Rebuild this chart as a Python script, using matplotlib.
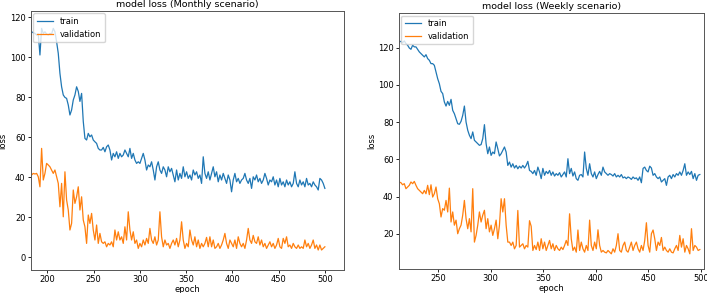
import numpy as np
import matplotlib
matplotlib.use('Agg')
import matplotlib.pyplot as plt

# 月度场景 (Monthly) 读取的损失值
monthly_train = [
    112.8, 112.3, 112.0, 111.2, 111.7, 101.2, 114.5, 112.0, 112.8, 111.7,
    111.2, 112.0, 111.7, 114.5, 112.8, 107.8, 102.0, 92.0, 85.3, 81.2,
    80.0, 79.5, 76.2, 71.2, 73.7, 78.7, 81.2, 85.3, 83.0, 78.0,
    82.0, 68.0, 59.5, 58.7, 62.0, 60.3, 61.2, 58.7, 57.8, 57.0,
    54.5, 53.7, 53.7, 55.0, 52.8, 55.3, 56.2, 53.7, 48.7, 52.0,
    50.3, 52.8, 49.5, 52.0, 50.3, 51.2, 53.7, 52.0, 50.3, 54.5,
    49.5, 52.0, 48.7, 47.0, 47.8, 47.0, 49.5, 52.0, 48.7, 43.7,
    46.2, 45.3, 47.8, 43.7, 38.7, 45.3, 47.8, 43.7, 42.0, 45.3,
    43.7, 40.3, 45.3, 42.8, 44.5, 41.2, 37.8, 43.7, 38.7, 42.0,
    39.5, 45.3, 40.3, 42.8, 39.5, 41.2, 38.7, 43.7, 41.2, 42.8,
    39.5, 41.2, 37.0, 50.3, 42.0, 39.5, 42.8, 38.7, 42.0, 45.3,
    40.3, 42.8, 37.8, 41.2, 38.7, 42.0, 39.5, 37.0, 41.2, 38.7,
    32.8, 38.7, 42.0, 37.8, 39.5, 37.0, 38.7, 39.5, 42.0, 38.7,
    37.0, 39.5, 34.5, 40.3, 38.7, 41.2, 37.8, 39.5, 37.0, 38.7,
    42.0, 39.5, 36.2, 38.7, 37.8, 40.3, 36.2, 38.7, 35.3, 39.5,
    36.2, 37.8, 35.3, 38.7, 36.2, 37.8, 35.3, 37.0, 42.8, 37.0,
    35.3, 38.7, 36.2, 37.8, 35.3, 39.5, 36.2, 37.0, 35.3, 37.8,
    36.2, 35.3, 33.7, 39.5, 38.7, 37.0, 34.5,
]
monthly_val = [
    41.2, 42.0, 41.7, 42.0, 40.3, 35.3, 54.5, 38.7, 42.0, 47.0,
    46.2, 45.3, 43.7, 42.0, 43.7, 40.3, 37.0, 25.3, 37.0, 20.3,
    42.8, 28.7, 23.7, 13.7, 17.0, 33.7, 27.0, 30.3, 35.3, 23.7,
    30.3, 18.7, 15.3, 7.0, 21.2, 17.0, 22.0, 13.7, 8.7, 16.2,
    7.0, 12.0, 7.8, 7.0, 7.8, 5.3, 7.0, 6.2, 7.8, 5.3,
    13.7, 8.7, 12.8, 8.7, 10.3, 7.0, 15.3, 8.7, 22.8, 13.7,
    8.7, 12.8, 7.0, 8.7, 4.5, 7.0, 5.3, 8.7, 6.2, 9.5,
    7.0, 14.5, 8.7, 7.0, 10.3, 6.2, 8.7, 22.8, 10.3, 5.3,
    8.7, 6.2, 7.0, 4.5, 7.0, 8.7, 6.2, 9.5, 5.3, 8.7,
    17.8, 8.7, 4.5, 7.0, 5.3, 13.7, 8.7, 6.2, 10.3, 5.3,
    8.7, 4.5, 7.0, 5.3, 7.0, 10.0, 5.3, 10.3, 5.3, 8.7,
    4.5, 5.3, 7.0, 4.5, 6.2, 8.7, 12.0, 7.0, 4.5, 8.7,
    7.0, 5.3, 8.7, 4.5, 10.3, 7.0, 5.3, 7.0, 4.5, 8.7,
    14.5, 8.7, 7.0, 11.0, 7.8, 7.0, 10.3, 6.2, 8.7, 5.3,
    7.0, 4.5, 6.2, 7.8, 5.3, 7.0, 4.5, 6.2, 9.5, 5.3,
    4.5, 9.5, 7.0, 10.3, 5.3, 6.2, 4.5, 7.0, 5.3, 4.5,
    6.2, 4.5, 5.3, 4.5, 8.7, 5.3, 7.0, 4.5, 6.2, 8.7,
    4.5, 6.2, 3.7, 6.2, 3.7, 4.5, 5.3,
]

# 每周场景 (Weekly) 读取的损失值
weekly_train = [
    123.0, 123.4, 122.7, 123.6, 122.2, 121.3, 119.8, 119.1, 121.3, 120.4,
    120.4, 119.1, 117.7, 116.8, 115.9, 115.0, 116.2, 114.1, 113.2, 111.4,
    111.4, 110.5, 106.9, 103.3, 100.6, 96.5, 95.3, 90.8, 88.6, 91.1,
    89.0, 92.2, 86.3, 84.5, 81.8, 79.1, 78.8, 80.4, 83.6, 88.6,
    80.0, 75.6, 72.9, 71.1, 74.7, 70.2, 69.3, 68.4, 67.5, 67.9,
    71.1, 78.6, 68.4, 63.0, 66.6, 62.1, 63.9, 63.0, 69.3, 65.7,
    61.8, 63.0, 64.8, 66.6, 63.9, 56.7, 58.5, 55.8, 57.6, 55.3,
    56.7, 54.9, 56.3, 55.3, 56.7, 55.3, 56.7, 58.9, 54.0, 53.5,
    52.3, 54.0, 51.4, 55.8, 53.2, 49.6, 55.1, 51.4, 53.5, 52.3,
    54.0, 51.4, 53.2, 51.0, 52.3, 51.4, 52.8, 50.5, 51.8, 53.2,
    50.5, 60.3, 52.3, 55.1, 51.0, 53.2, 49.6, 48.7, 51.4, 51.8,
    50.5, 63.9, 55.1, 51.4, 57.6, 52.3, 50.5, 53.2, 49.6, 51.8,
    53.5, 51.4, 55.8, 53.2, 52.3, 51.4, 52.3, 51.8, 51.0, 52.3,
    50.5, 51.4, 50.5, 51.8, 50.0, 50.5, 49.6, 50.5, 50.0, 49.2,
    50.5, 49.6, 50.0, 48.7, 50.5, 47.4, 55.1, 55.8, 54.0, 53.2,
    56.3, 55.3, 51.4, 52.3, 50.5, 49.6, 50.5, 47.8, 48.7, 49.6,
    46.0, 50.5, 51.4, 49.6, 51.8, 50.5, 52.3, 51.4, 53.2, 51.4,
    54.0, 57.6, 51.4, 53.2, 51.8, 53.5, 49.6, 52.3, 48.7, 51.4,
    51.8,
]
weekly_val = [
    47.8, 47.4, 46.3, 46.9, 44.2, 45.1, 46.0, 47.8, 46.9, 48.1,
    46.0, 44.2, 43.3, 42.4, 41.5, 43.3, 41.5, 46.0, 41.0, 46.3,
    39.7, 41.5, 45.1, 38.8, 36.1, 29.0, 33.5, 32.6, 37.9, 31.7,
    44.5, 26.3, 31.7, 24.6, 27.3, 20.0, 22.7, 24.6, 30.0, 37.9,
    28.1, 22.7, 28.1, 21.0, 44.2, 15.5, 19.1, 24.6, 31.7, 26.3,
    30.0, 32.6, 22.7, 28.1, 21.0, 24.6, 19.1, 22.7, 27.3, 17.3,
    24.6, 38.8, 31.7, 38.8, 24.6, 15.5, 15.5, 13.7, 15.5, 11.9,
    13.7, 32.5, 12.8, 13.7, 14.6, 11.9, 13.7, 12.8, 27.0, 24.0,
    11.0, 13.7, 11.5, 15.5, 11.0, 17.3, 11.9, 15.5, 11.0, 13.7,
    16.4, 11.9, 14.6, 11.0, 13.7, 11.9, 11.0, 12.8, 11.5, 13.7,
    16.4, 13.7, 30.7, 17.3, 11.0, 12.8, 10.1, 22.0, 11.0, 15.5,
    11.9, 10.1, 13.7, 11.0, 27.3, 13.7, 11.0, 15.5, 11.9, 22.1,
    13.7, 10.1, 11.0, 10.1, 9.7, 11.0, 10.1, 9.2, 11.9, 10.1,
    13.7, 20.0, 11.0, 10.1, 13.7, 15.5, 11.0, 10.1, 12.8, 15.5,
    11.0, 13.7, 15.5, 11.9, 10.1, 13.7, 11.0, 16.4, 25.9, 13.7,
    10.1, 20.0, 22.0, 17.3, 11.0, 15.5, 13.7, 18.0, 11.0, 12.8,
    11.0, 10.1, 11.9, 10.1, 9.7, 11.9, 13.7, 11.0, 19.1, 12.8,
    17.3, 10.1, 13.7, 11.9, 9.2, 22.7, 11.0, 13.7, 12.8, 11.0,
    11.5,
]

monthly_epochs = np.linspace(183, 500, len(monthly_train))
weekly_epochs = np.linspace(213, 499, len(weekly_train))

fs = 6.0
fig = plt.figure(figsize=(7.07, 2.93), dpi=100)

ax1 = fig.add_axes([0.0434, 0.0785, 0.4436, 0.884])
ax1.plot(monthly_epochs, monthly_train, lw=0.9, label='train')
ax1.plot(monthly_epochs, monthly_val, lw=0.9, label='validation')
ax1.set_xlim(182, 521)
ax1.set_ylim(-6.3, 123.2)
ax1.set_xticks([200, 250, 300, 350, 400, 450, 500])
ax1.set_yticks([0, 20, 40, 60, 80, 100, 120])
ax1.set_title('model loss (Monthly scenario)', fontsize=6.8, pad=3)
ax1.set_xlabel('epoch', fontsize=fs, labelpad=0.5)
ax1.set_ylabel('loss', fontsize=fs, labelpad=1.5)
ax1.legend(loc='upper left', fontsize=fs, borderaxespad=0.3)

ax2 = fig.add_axes([0.564, 0.0829, 0.4318, 0.8727])
ax2.plot(weekly_epochs, weekly_train, lw=0.9, label='train')
ax2.plot(weekly_epochs, weekly_val, lw=0.9, label='validation')
ax2.set_xlim(212.5, 503)
ax2.set_ylim(1.2, 138.6)
ax2.set_xticks([250, 300, 350, 400, 450, 500])
ax2.set_yticks([20, 40, 60, 80, 100, 120])
ax2.set_title('model loss (Weekly scenario)', fontsize=6.8, pad=3)
ax2.set_xlabel('epoch', fontsize=fs, labelpad=0.5)
ax2.set_ylabel('loss', fontsize=fs, labelpad=1.5)
ax2.legend(loc='upper left', fontsize=fs, borderaxespad=0.3)

for ax in (ax1, ax2):
    ax.tick_params(labelsize=fs, length=2.5, width=0.6, pad=1.2)
    for sp in ax.spines.values():
        sp.set_linewidth(0.7)
        sp.set_color('#555555')

fig.savefig('out.png', dpi=100)
